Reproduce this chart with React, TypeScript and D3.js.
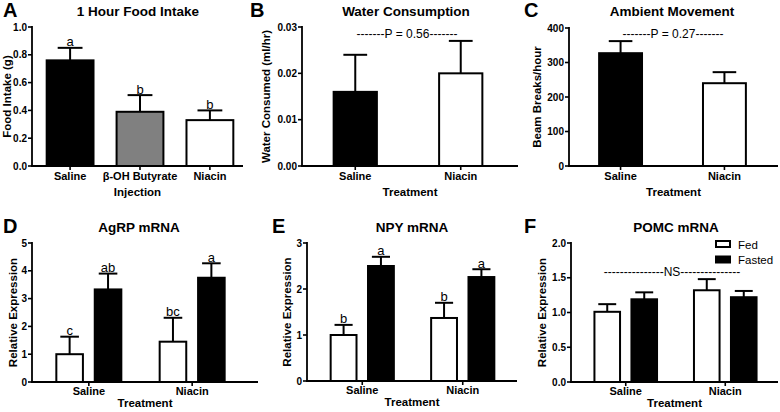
import React from "react";
import * as d3 from "d3";

// ---------- DATA ----------
const foodCategories = ["Saline", "β-OH Butyrate", "Niacin"];
const foodMeans = [0.76, 0.39, 0.33];
const foodSem = [0.09, 0.12, 0.07];
const foodLetters = ["a", "b", "b"];
const foodTicks = [0, 0.2, 0.4, 0.6, 0.8, 1.0];

const treatments = ["Saline", "Niacin"];
const waterMeans = [0.016, 0.02];
const waterSem = [0.008, 0.007];
const waterTicks = [0, 0.01, 0.02, 0.03];

const moveMeans = [327, 240];
const moveSem = [35, 32];
const moveTicks = [0, 100, 200, 300, 400];

const states = ["Fed", "Fasted"];
const agrpFed = [1.0, 1.45];
const agrpFedSem = [0.63, 0.86];
const agrpFasted = [3.33, 3.75];
const agrpFastedSem = [0.57, 0.52];
const agrpFedLetters = ["c", "bc"];
const agrpFastedLetters = ["ab", "a"];
const agrpTicks = [0, 1, 2, 3, 4, 5];

const npyFed = [1.0, 1.37];
const npyFedSem = [0.22, 0.33];
const npyFasted = [2.5, 2.26];
const npyFastedSem = [0.2, 0.17];
const npyFedLetters = ["b", "b"];
const npyFastedLetters = ["a", "a"];
const npyTicks = [0, 1, 2, 3];

const pomcFed = [1.01, 1.32];
const pomcFedSem = [0.11, 0.16];
const pomcFasted = [1.19, 1.22];
const pomcFastedSem = [0.1, 0.09];
const pomcTicks = [0, 0.5, 1.0, 1.5, 2.0];

// ---------- STYLE ----------
const FONT = "'Liberation Sans', Arial, Helvetica, sans-serif";
const stateFill: Record<string, string> = { Fed: "#ffffff", Fasted: "#000000" };
const foodFill = ["#000000", "#808080", "#ffffff"];
const twoFill = ["#000000", "#ffffff"];

type Bar = { x: number; w: number; mean: number; sem: number; fill: string; letter?: string };

function Axes(props: {
  x0: number; x1: number; y: d3.ScaleLinear<number, number>; ticks: number[]; fmt: (v: number) => string;
  cats: { label: string; cx: number }[]; xTitle: string; yTitle: string; yTitleX: number;
  letter: string; letterX: number; title: string; titleX: number; top: boolean;
}) {
  const { x0, x1, y, ticks, fmt, cats } = props;
  const y0 = y(0);
  const base = props.top ? 0 : 216;
  const yMid = (y.range()[0] + y.range()[1]) / 2;
  const labOff = props.top ? 14 : 13;
  const titleOff = props.top ? 29.5 : 24.5;
  return (
    <g fontFamily={FONT} fill="#000">
      <text x={props.letterX} y={base + 17} fontSize={20} fontWeight="bold">{props.letter}</text>
      <text x={props.titleX} y={base + 16} fontSize={13.5} fontWeight="bold" textAnchor="middle">{props.title}</text>
      <line x1={x0} x2={x0} y1={y(ticks[ticks.length - 1]) - 1} y2={y0 + 1} stroke="#000" strokeWidth={1.8} />
      <line x1={x0 - 1} x2={x1} y1={y0} y2={y0} stroke="#000" strokeWidth={1.8} />
      {ticks.map((t) => (
        <g key={t}>
          <line x1={x0 - 4} x2={x0} y1={y(t)} y2={y(t)} stroke="#000" strokeWidth={1.6} />
          <text x={x0 - 5} y={y(t)} dy="0.35em" fontSize={10} fontWeight="bold" textAnchor="end">{fmt(t)}</text>
        </g>
      ))}
      {cats.map((c) => (
        <g key={c.label}>
          <line x1={c.cx} x2={c.cx} y1={y0} y2={y0 + 4} stroke="#000" strokeWidth={1.6} />
          <text x={c.cx} y={y0 + labOff} fontSize={11} fontWeight="bold" textAnchor="middle">{c.label}</text>
        </g>
      ))}
      <text x={(x0 + x1) / 2} y={y0 + titleOff} fontSize={11.5} fontWeight="bold" textAnchor="middle">{props.xTitle}</text>
      <text transform={`translate(${props.yTitleX},${yMid}) rotate(-90)`} fontSize={11.5} fontWeight="bold" textAnchor="middle">{props.yTitle}</text>
    </g>
  );
}

function Bars(props: { bars: Bar[]; y: d3.ScaleLinear<number, number>; capFrac: number }) {
  const { y } = props;
  return (
    <g fontFamily={FONT}>
      {props.bars.map((b, i) => {
        const cx = b.x + b.w / 2;
        const topY = y(b.mean + b.sem);
        const cap = b.w * props.capFrac;
        return (
          <g key={i}>
            <line x1={cx} x2={cx} y1={y(b.mean)} y2={topY} stroke="#000" strokeWidth={2} />
            <line x1={cx - cap / 2} x2={cx + cap / 2} y1={topY} y2={topY} stroke="#000" strokeWidth={2} />
            <rect x={b.x} y={y(b.mean)} width={b.w} height={y(0) - y(b.mean)} fill={b.fill} stroke="#000" strokeWidth={2} />
            {b.letter && (
              <text x={cx} y={topY - 1.5} fontSize={13} fill="#000" textAnchor="middle">{b.letter}</text>
            )}
          </g>
        );
      })}
    </g>
  );
}

function groupedPanel(
  x0: number, rEnd: number, yTopPx: number, yBotPx: number, yMax: number,
  fed: number[], fedSem: number[], fasted: number[], fastedSem: number[],
  fedLetters: string[] | null, fastedLetters: string[] | null
) {
  const outer = d3.scaleBand<string>().domain(treatments).range([x0, rEnd]).paddingInner(0.371).paddingOuter(0.371 / 2 + 0.05);
  const inner = d3.scaleBand<string>().domain(states).range([0, outer.bandwidth()]).paddingInner(0.308).paddingOuter(0);
  const y = d3.scaleLinear().domain([0, yMax]).range([yBotPx, yTopPx]);
  const bars: Bar[] = [];
  treatments.forEach((t, i) => {
    const gx = outer(t)!;
    bars.push({ x: gx + inner("Fed")!, w: inner.bandwidth(), mean: fed[i], sem: fedSem[i], fill: stateFill.Fed, letter: fedLetters ? fedLetters[i] : undefined });
    bars.push({ x: gx + inner("Fasted")!, w: inner.bandwidth(), mean: fasted[i], sem: fastedSem[i], fill: stateFill.Fasted, letter: fastedLetters ? fastedLetters[i] : undefined });
  });
  const cats = treatments.map((t) => ({ label: t, cx: outer(t)! + outer.bandwidth() / 2 }));
  return { y, bars, cats };
}

export default function App() {
  // Panel A
  const xA = d3.scaleBand<string>().domain(foodCategories).range([32, 248]).paddingInner(0.33).paddingOuter(0.21);
  const yA = d3.scaleLinear().domain([0, 1]).range([166, 27]);
  const barsA: Bar[] = foodCategories.map((c, i) => ({ x: xA(c)!, w: xA.bandwidth(), mean: foodMeans[i], sem: foodSem[i], fill: foodFill[i], letter: foodLetters[i] }));
  const catsA = foodCategories.map((c) => ({ label: c, cx: xA(c)! + xA.bandwidth() / 2 }));

  // Panel B
  const xB = d3.scaleBand<string>().domain(treatments).range([302, 514]).paddingInner(0.59).paddingOuter(0.3);
  const yB = d3.scaleLinear().domain([0, 0.03]).range([166, 27]);
  const barsB: Bar[] = treatments.map((c, i) => ({ x: xB(c)!, w: xB.bandwidth(), mean: waterMeans[i], sem: waterSem[i], fill: twoFill[i] }));
  const catsB = treatments.map((c) => ({ label: c, cx: xB(c)! + xB.bandwidth() / 2 }));

  // Panel C
  const xC = d3.scaleBand<string>().domain(treatments).range([569, 776]).paddingInner(0.587).paddingOuter(0.29);
  const yC = d3.scaleLinear().domain([0, 400]).range([166, 28]);
  const barsC: Bar[] = treatments.map((c, i) => ({ x: xC(c)!, w: xC.bandwidth(), mean: moveMeans[i], sem: moveSem[i], fill: twoFill[i] }));
  const catsC = treatments.map((c) => ({ label: c, cx: xC(c)! + xC.bandwidth() / 2 }));

  const D = groupedPanel(32, 249, 243, 382, 5, agrpFed, agrpFedSem, agrpFasted, agrpFastedSem, agrpFedLetters, agrpFastedLetters);
  const E = groupedPanel(307, 518, 243, 381, 3, npyFed, npyFedSem, npyFasted, npyFastedSem, npyFedLetters, npyFastedLetters);
  const F = groupedPanel(571, 780, 243, 382, 2, pomcFed, pomcFedSem, pomcFasted, pomcFastedSem, null, null);

  const f1 = d3.format(".1f");
  const f2 = d3.format(".2f");
  const f0 = d3.format("d");

  return (
    <svg width={780} height={412} style={{ position: "absolute", left: 0, top: 0, background: "#fff" }}>
      <rect width={780} height={412} fill="#fff" />
      {/* A */}
      <Axes x0={32} x1={243} y={yA} ticks={foodTicks} fmt={f1} cats={catsA} xTitle="Injection" yTitle="Food Intake (g)" yTitleX={11} letter="A" letterX={3} title="1 Hour Food Intake" titleX={138} top={true} />
      <Bars bars={barsA} y={yA} capFrac={0.53} />
      {/* B */}
      <Axes x0={302} x1={518} y={yB} ticks={waterTicks} fmt={f2} cats={catsB} xTitle="Treatment" yTitle="Water Consumed (ml/hr)" yTitleX={270} letter="B" letterX={250} title="Water Consumption" titleX={406} top={true} />
      <Bars bars={barsB} y={yB} capFrac={0.55} />
      <text x={407} y={38} fontFamily={FONT} fontSize={12} textAnchor="middle">-------P = 0.56-------</text>
      {/* C */}
      <Axes x0={569} x1={778} y={yC} ticks={moveTicks} fmt={f0} cats={catsC} xTitle="Treatment" yTitle="Beam Breaks/hour" yTitleX={541} letter="C" letterX={524} title="Ambient Movement" titleX={672} top={true} />
      <Bars bars={barsC} y={yC} capFrac={0.55} />
      <text x={673} y={38} fontFamily={FONT} fontSize={12} textAnchor="middle">-------P = 0.27-------</text>
      {/* D */}
      <Axes x0={32} x1={258} y={D.y} ticks={agrpTicks} fmt={f0} cats={D.cats} xTitle="Treatment" yTitle="Relative Expression" yTitleX={17} letter="D" letterX={3} title="AgRP mRNA" titleX={139} top={false} />
      <Bars bars={D.bars} y={D.y} capFrac={0.7} />
      {/* E */}
      <Axes x0={307} x1={517} y={E.y} ticks={npyTicks} fmt={f0} cats={E.cats} xTitle="Treatment" yTitle="Relative Expression" yTitleX={291} letter="E" letterX={272} title="NPY mRNA" titleX={412} top={false} />
      <Bars bars={E.bars} y={E.y} capFrac={0.7} />
      {/* F */}
      <Axes x0={571} x1={778} y={F.y} ticks={pomcTicks} fmt={f1} cats={F.cats} xTitle="Treatment" yTitle="Relative Expression" yTitleX={546} letter="F" letterX={524} title="POMC mRNA" titleX={676} top={false} />
      <Bars bars={F.bars} y={F.y} capFrac={0.7} />
      <text x={672} y={276} fontFamily={FONT} fontSize={12} textAnchor="middle">---------------NS---------------</text>
      {/* Legend */}
      <g fontFamily={FONT} fontSize={11.5}>
        {states.map((s, i) => (
          <g key={s}>
            <rect x={716} y={241 + i * 15.5} width={14} height={6} fill={stateFill[s]} stroke="#000" strokeWidth={2} />
            <text x={738} y={248.5 + i * 15.5}>{s}</text>
          </g>
        ))}
      </g>
    </svg>
  );
}
